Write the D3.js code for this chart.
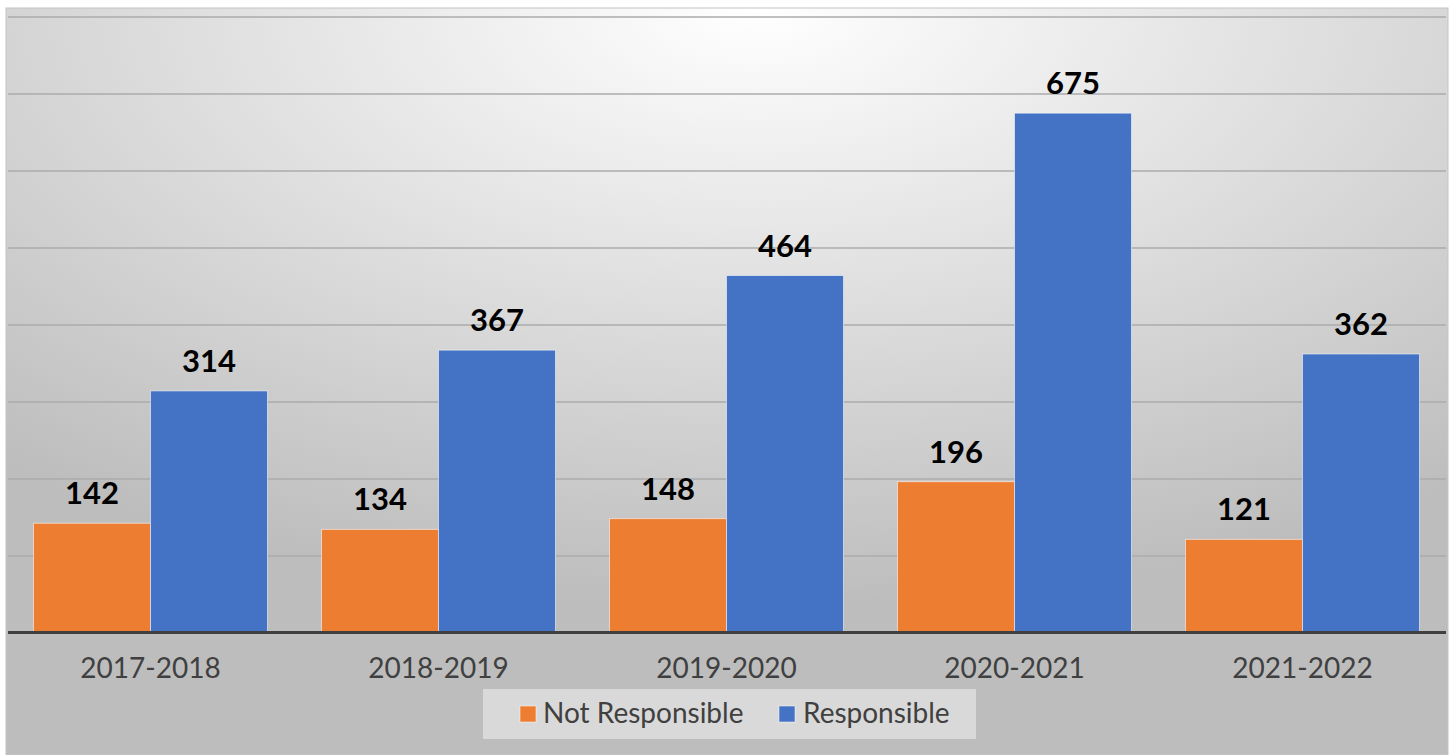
<!DOCTYPE html>
<html><head><meta charset="utf-8">
<script src="https://cdn.jsdelivr.net/npm/d3@7"></script>
<style>html,body{margin:0;padding:0;background:#fff;}svg{display:block;}</style>
</head><body>
<svg id="chart" width="1453" height="755"></svg>
<script>
const categories = ["2017-2018","2018-2019","2019-2020","2020-2021","2021-2022"];
const seriesNames = ["Not Responsible","Responsible"];
const notResponsible = [142,134,148,196,121];
const responsible = [314,367,464,675,362];
const yTicks = [0,100,200,300,400,500,600,700,800];
const colors = ["#ED7D31","#4472C4"];

const svg = d3.select("#chart");
const defs = svg.append("defs");
const grad = defs.append("radialGradient").attr("id","bg")
  .attr("cx","52%").attr("cy","0%").attr("r","80%").attr("fx","52%").attr("fy","0%");
grad.append("stop").attr("offset","0%").attr("stop-color","#ffffff");
grad.append("stop").attr("offset","100%").attr("stop-color","#bdbdbd");

svg.append("rect").attr("x",6).attr("y",8).attr("width",1442).attr("height",747)
  .attr("fill","url(#bg)").attr("stroke","#c4c4c4").attr("stroke-width",1);

const x = d3.scaleBand().domain(categories).range([6.5,1446.5]).paddingInner(0.1875).paddingOuter(0.09375);
const xs = d3.scaleBand().domain(seriesNames).range([0,x.bandwidth()]);
const y = d3.scaleLinear().domain([0,800]).range([632.5,17]);

// gridlines
svg.append("g").selectAll("line").data(yTicks.filter(d=>d>0)).join("line")
  .attr("x1",8).attr("x2",1446).attr("y1",d=>Math.round(y(d))).attr("y2",d=>Math.round(y(d)))
  .attr("stroke","#ababab").attr("stroke-width",1.6);

const data = categories.map((c,i)=>({cat:c, vals:[notResponsible[i], responsible[i]]}));
const groups = svg.append("g").selectAll("g").data(data).join("g")
  .attr("transform",d=>`translate(${x(d.cat)},0)`);
groups.selectAll("rect").data(d=>d.vals.map((v,j)=>({v,j}))).join("rect")
  .attr("x",d=>xs(seriesNames[d.j])).attr("width",xs.bandwidth())
  .attr("y",d=>y(d.v)).attr("height",d=>y(0)-y(d.v))
  .attr("fill",d=>colors[d.j]).attr("stroke","rgba(255,255,255,0.55)").attr("stroke-width",1);
groups.selectAll("text").data(d=>d.vals.map((v,j)=>({v,j}))).join("text")
  .attr("x",d=>xs(seriesNames[d.j])+xs.bandwidth()/2).attr("y",d=>y(d.v)-19)
  .attr("text-anchor","middle").attr("font-family","Lato, sans-serif")
  .attr("font-weight","bold").attr("font-size",31).attr("fill","#000")
  .text(d=>d.v);

// x axis
const xAxis = svg.append("g").attr("transform",`translate(0,${y(0)})`)
  .call(d3.axisBottom(x).tickSize(0).tickPadding(26));
xAxis.select(".domain").attr("stroke","#404040").attr("stroke-width",3).attr("d","M8,0H1446");
xAxis.selectAll("text").attr("font-family","Lato, sans-serif").attr("font-size",28).attr("fill","#404040");

// legend
const lg = svg.append("g");
lg.append("rect").attr("x",483).attr("y",689).attr("width",493).attr("height",50)
  .attr("fill","rgba(240,240,240,0.55)");
const items = [{name:seriesNames[0],sx:520,tx:543},{name:seriesNames[1],sx:779,tx:803}];
items.forEach((it,i)=>{
  lg.append("rect").attr("x",it.sx).attr("y",706).attr("width",16).attr("height",16)
    .attr("fill",colors[i]).attr("stroke","rgba(255,255,255,0.5)").attr("stroke-width",1);
  lg.append("text").attr("x",it.tx).attr("y",723).attr("font-family","Lato, sans-serif")
    .attr("font-size",28).attr("fill","#404040").text(it.name);
});
</script>
</body></html>
